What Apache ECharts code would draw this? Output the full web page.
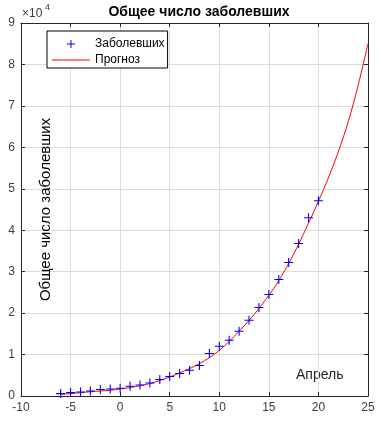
<!DOCTYPE html>
<html>
<head>
<meta charset="utf-8">
<script src="https://cdn.jsdelivr.net/npm/echarts@6/dist/echarts.min.js"></script>
<style>
html,body{margin:0;padding:0;background:#fff;}
#chart{width:381px;height:422px;}
</style>
</head>
<body>
<div id="chart"></div>
<script>
// Data
var days = [-6,-5,-4,-3,-2,-1,0,1,2,3,4,5,6,7,8,9,10,11,12,13,14,15,16,17,18,19,20];
var cases = [580,820,970,1210,1550,1700,1860,2340,2660,3140,3980,4690,5410,6210,7340,10240,12000,13450,15630,18290,21350,24500,28100,32200,36800,43000,47100];
var forecastDays = [-6,-5,-4,-3,-2,-1,0,1,2,3,4,5,6,7,8,9,10,11,12,13,14,15,16,17,18,19,20,21,22,23,24,25];
var forecast = [400,580,800,1030,1220,1400,1700,2030,2480,3000,3750,4580,5550,6600,7800,9250,11000,13150,15650,18200,21100,24300,27800,32000,36600,41700,47000,52600,58900,66100,74900,85000];
var xTicks = [-10,-5,0,5,10,15,20,25];
var yTicks = [0,1,2,3,4,5,6,7,8,9];

var FONT = '"Liberation Sans", Arial, Helvetica, sans-serif';
var chart = echarts.init(document.getElementById('chart'), null, {renderer:'canvas'});
var plus = 'path://M0,4.4H10V5.6H0Z M4.4,0H5.6V10H4.4Z';
var lineIcon = 'path://M0,0H38V1H0Z';

function pairs(xs, ys){ return xs.map(function(x,i){return [x, ys[i]];}); }

var axisColor = '#262626';
var gridColor = '#dedede';

var option = {
  animation:false,
  backgroundColor:'#fff',
  title:{
    text:'Общее число заболевших',
    left:194, top:0, textAlign:'center',
    textStyle:{fontFamily:FONT, fontSize:14, fontWeight:'bold', color:'#000'}
  },
  legend:{
    left:47, top:31, orient:'vertical',
    backgroundColor:'#fff', borderColor:'#000', borderWidth:1, borderRadius:0,
    padding:[7,3,2,5], itemWidth:38, itemHeight:8, itemGap:4,
    textStyle:{fontFamily:FONT, fontSize:12, color:'#000'},
    data:[{name:'Заболевших', icon:plus},{name:'Прогноз', icon:lineIcon}]
  },
  grid:{left:21, right:13, top:23, bottom:26, containLabel:false},
  xAxis:[{
    type:'value', min:xTicks[0], max:xTicks[xTicks.length-1], interval:5,
    axisLine:{show:true, onZero:false, lineStyle:{color:axisColor, width:1}},
    axisTick:{show:true, inside:true, length:4, lineStyle:{color:axisColor}},
    axisLabel:{fontFamily:FONT, fontSize:12, color:'#404040', margin:6},
    splitLine:{show:true, lineStyle:{color:gridColor, width:1}}
  },{
    type:'value', position:'top', min:xTicks[0], max:xTicks[xTicks.length-1], interval:5,
    axisLine:{show:true, onZero:false, lineStyle:{color:axisColor, width:1}},
    axisTick:{show:true, inside:true, length:4, lineStyle:{color:axisColor}},
    axisLabel:{show:false}, splitLine:{show:false}
  }],
  yAxis:[{
    type:'value', min:0, max:90000, interval:10000,
    name:'Общее число заболевших', nameLocation:'middle', nameRotate:90, nameGap:-32,
    nameTextStyle:{fontFamily:FONT, fontSize:15, color:'#000'},
    axisLine:{show:true, onZero:false, lineStyle:{color:axisColor, width:1}},
    axisTick:{show:true, inside:true, length:4, lineStyle:{color:axisColor}},
    axisLabel:{fontFamily:FONT, fontSize:12, color:'#404040', margin:6,
      formatter:function(v){ return String(Math.round(v/10000)); }},
    splitLine:{show:true, lineStyle:{color:gridColor, width:1}}
  },{
    type:'value', position:'right', min:0, max:90000, interval:10000,
    axisLine:{show:true, onZero:false, lineStyle:{color:axisColor, width:1}},
    axisTick:{show:true, inside:true, length:4, lineStyle:{color:axisColor}},
    axisLabel:{show:false}, splitLine:{show:false}
  }],
  graphic:[
    {type:'text', left:22, top:8, style:{text:'×10', font:'12px '+FONT, fill:'#404040'}},
    {type:'text', left:45, top:3, style:{text:'4', font:'9px '+FONT, fill:'#404040'}},
    {type:'text', left:296, top:368, style:{text:'Апрель', font:'14px '+FONT, fill:'#262626'}}
  ],
  series:[{
    name:'Прогноз', type:'line', xAxisIndex:0, yAxisIndex:0,
    data:pairs(forecastDays, forecast), showSymbol:false, symbol:'none', smooth:0.3,
    lineStyle:{color:'#ff0000', width:1}, itemStyle:{color:'#ff0000'}, z:2
  },{
    name:'Заболевших', type:'scatter', xAxisIndex:0, yAxisIndex:0,
    data:pairs(days, cases), symbol:plus, symbolSize:9,
    itemStyle:{color:'#0000ff', opacity:1}, z:3
  }]
};
chart.setOption(option);
</script>
</body>
</html>
